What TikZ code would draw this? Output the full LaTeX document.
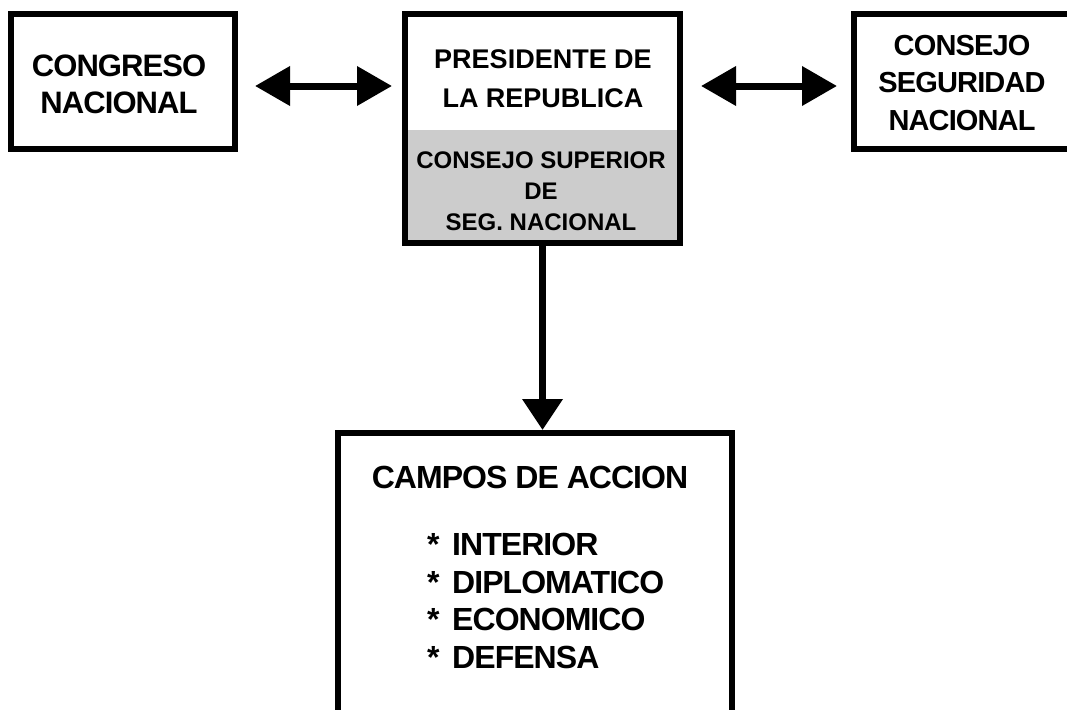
\documentclass[tikz,border=0pt]{standalone}
\usepackage{fontspec}
\setmainfont{Liberation Sans}
\newfontfamily\tightfont[LetterSpace=-3]{Liberation Sans}
\usetikzlibrary{arrows.meta,positioning}
\definecolor{supgray}{RGB}{204,204,204}
\tikzset{
  box/.style={draw, line width=6pt, inner sep=0pt, align=center},
  lbl/.style={align=center, inner sep=0pt},
  dbl/.style={line width=7pt, {Triangle[length=35pt 0,width=38pt 0]}-{Triangle[length=35pt 0,width=38pt 0]}},
  down/.style={line width=7pt, -{Triangle[length=31pt 0,width=39pt 0]}}
}
\begin{document}
\begin{tikzpicture}[x=1pt,y=-1pt,font=\bfseries]
\useasboundingbox (0,0) rectangle (1067,709);
\clip (0,0) rectangle (1067,709);

\node [box, minimum width=224pt, minimum height=135pt] (cong) at (123,81.5) {};
\node [box, minimum width=275pt, minimum height=229pt] (pres) at (542.5,128.5) {};
\node [box, minimum width=236pt, minimum height=135pt] (seg) at (972,81.5) {};
\node [box, minimum width=394pt, minimum height=327pt] (campos) at (535,596.5) {};
\fill [supgray] (408,130) rectangle (677,240);

\node [lbl, font=\tightfont\bfseries\fontsize{31}{37}\selectfont] at (119,84) {CONGRESO\\NACIONAL};
\node [lbl, font=\bfseries\fontsize{27}{39}\selectfont] at (543,79) {PRESIDENTE DE\\LA REPUBLICA};
\node [lbl, font=\bfseries\fontsize{24}{31}\selectfont] at (541,191) {CONSEJO SUPERIOR\\DE\\SEG. NACIONAL};
\node [lbl, font=\tightfont\bfseries\fontsize{29}{37.5}\selectfont] at (962,83) {CONSEJO\\SEGURIDAD\\NACIONAL};

\node [lbl, font=\tightfont\bfseries\fontsize{32}{38}\selectfont] (title) at (530,477) {CAMPOS DE ACCION};
\node [lbl, align=left, anchor=north west, font=\tightfont\bfseries\fontsize{32}{37.7}\selectfont] (list) at (427,533)
  {\makebox[25pt][l]{*}INTERIOR\\
   \makebox[25pt][l]{*}DIPLOMATICO\\
   \makebox[25pt][l]{*}ECONOMICO\\
   \makebox[25pt][l]{*}DEFENSA};

\coordinate (la) at ([yshift=-4.5pt]cong.east);
\coordinate (ra) at ([yshift=-4.5pt]seg.west);
\draw [dbl, shorten <=17pt, shorten >=10pt] (la) -- (la -| pres.west);
\draw [dbl, shorten <=14pt, shorten >=18pt] (ra) -- (ra -| pres.east);
\draw [down] (pres.south) -- (pres.south |- campos.north);
\end{tikzpicture}
\end{document}
